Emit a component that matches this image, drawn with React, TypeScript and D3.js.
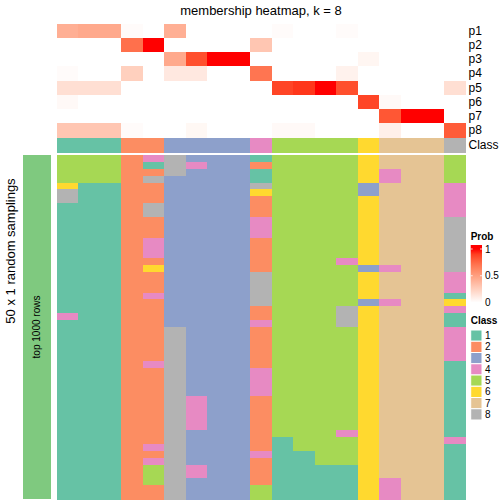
import React from "react";
import * as d3 from "d3";

const title = "membership heatmap, k = 8";
const probRows = ["p1", "p2", "p3", "p4", "p5", "p6", "p7", "p8"];
const classLabels = ["1", "2", "3", "4", "5", "6", "7", "8"];
const classColors = ["#66C2A5", "#FC8D62", "#8DA0CB", "#E78AC3", "#A6D854", "#FFD92F", "#E5C494", "#B3B3B3"];
const probTicks = [0, 0.5, 1];

// membership probability per column (19 columns) for each class p1..p8
const p1 = [0.42, 0.45, 0.45, 0.02, 0, 0.42, 0, 0, 0, 0, 0.02, 0, 0, 0.02, 0, 0, 0, 0, 0];
const p2 = [0, 0, 0, 0.72, 1, 0, 0, 0, 0, 0.3, 0, 0, 0, 0, 0, 0, 0, 0, 0];
const p3 = [0, 0, 0, 0, 0, 0.45, 0.85, 1, 1, 0, 0, 0, 0, 0, 0.05, 0, 0, 0, 0];
const p4 = [0.02, 0, 0, 0.25, 0, 0.12, 0.12, 0, 0, 0.7, 0, 0, 0, 0.07, 0, 0, 0, 0, 0];
const p5 = [0.17, 0.17, 0.17, 0, 0, 0, 0, 0, 0, 0, 0.88, 0.92, 1, 0.85, 0, 0, 0, 0, 0.17];
const p6 = [0.03, 0, 0, 0, 0, 0, 0, 0, 0, 0, 0, 0, 0, 0, 0.88, 0.03, 0, 0, 0];
const p7 = [0, 0, 0, 0, 0, 0, 0, 0, 0, 0, 0, 0, 0, 0, 0, 0.82, 1, 1, 0];
const p8 = [0.3, 0.3, 0.3, 0.02, 0, 0, 0.04, 0, 0, 0, 0.03, 0.03, 0, 0, 0, 0.08, 0, 0, 0.8];
const probMatrix = [p1, p2, p3, p4, p5, p6, p7, p8];

// consensus class per column
const consensusClass = [1, 1, 1, 2, 2, 3, 3, 3, 3, 4, 5, 5, 5, 5, 6, 7, 7, 7, 8];

// class assignment for each of the 50 random samplings (rows) x 19 columns
const samplings = [
  "5552483331555567775",
  "5552184332555567775",
  "5552283331555564775",
  "5552833331555564775",
  "6112233338555537774",
  "8112233336555537774",
  "8112233332555567774",
  "1112833332555567774",
  "1112833332555567774",
  "1112233334555567778",
  "1112233334555567778",
  "1112233334555567778",
  "1112433332555567778",
  "1112433332555567778",
  "1112433332555567778",
  "1112233332555467778",
  "1112633332555534778",
  "1112233338555567774",
  "1112233338555567774",
  "1112233338555567774",
  "1112433338555567771",
  "1112233338555534776",
  "1112233332555867774",
  "4112233332555867771",
  "1112233334555867771",
  "1112283332555567774",
  "1112283332555567774",
  "1112283332555567774",
  "1112283332555567774",
  "1112283332555567774",
  "1112483332555567771",
  "1112283334555567771",
  "1112283334555567771",
  "1112283334555567771",
  "1112283334555567771",
  "1112284332555567771",
  "1112284332555567771",
  "1112284332555567771",
  "1112284332555567771",
  "1112284332555567771",
  "1112283332555467771",
  "1112283332155567774",
  "1112483332155567771",
  "1112283334115567771",
  "1112483332115567771",
  "1112584332111167771",
  "1112584332111167771",
  "1112583332111164771",
  "1112283335111164771",
  "1112283335111164771",
];

const FONT = "'Liberation Sans', Arial, Helvetica, sans-serif";

export default function App() {
  const nCol = consensusClass.length;
  const x = d3.scaleBand<number>().domain(d3.range(nCol)).range([56.7, 465.2]).padding(0);
  const yTop = d3.scaleBand<string>().domain(probRows).range([24, 137]).padding(0);
  const classY0 = 137.8;
  const classY1 = 152.7;
  const yBody = d3.scaleBand<number>().domain(d3.range(samplings.length)).range([155, 499]).padding(0);
  const probColor = d3.scaleLinear<string>().domain([0, 1]).range(["#FFFFFF", "#FF0000"]).interpolate(d3.interpolateLab);
  const classColor = d3.scaleOrdinal<number, string>().domain(d3.range(1, 9)).range(classColors);

  const legX = 470.7;
  const legW = 11.3;
  const probLegend = d3.scaleLinear().domain([0, 1]).range([302.5, 249]);
  const classLegY = d3.scaleBand<string>().domain(classLabels).range([330, 420]);

  const gradStops = d3.range(0, 1.0001, 0.1);

  return (
    <svg width={504} height={504} style={{ position: "absolute", left: 0, top: 0, display: "block" }} fontFamily={FONT}>
      <defs>
        <linearGradient id="probGrad" x1="0" y1="1" x2="0" y2="0">
          {gradStops.map((t) => (
            <stop key={t} offset={t} stopColor={probColor(t)} />
          ))}
        </linearGradient>
      </defs>
      <rect width={504} height={504} fill="white" />
      <text x={261} y={15} fontSize={13} textAnchor="middle" fill="black">{title}</text>

      <g shapeRendering="crispEdges">
        {probMatrix.map((row, i) =>
          row.map((v, j) => (
            <rect key={`p${i}-${j}`} x={x(j)} y={yTop(probRows[i])} width={x.bandwidth() + 0.5} height={yTop.bandwidth() + 0.5} fill={probColor(v)} />
          ))
        )}
        {consensusClass.map((c, j) => (
          <rect key={`c${j}`} x={x(j)} y={classY0} width={x.bandwidth() + 0.5} height={classY1 - classY0} fill={classColor(c)} />
        ))}
        {samplings.map((s, i) =>
          s.split("").map((ch, j) => (
            <rect key={`s${i}-${j}`} x={x(j)} y={yBody(i)} width={x.bandwidth() + 0.5} height={yBody.bandwidth() + 0.5} fill={classColor(+ch)} />
          ))
        )}
        <rect x={22.7} y={155} width={28} height={344} fill="#7FC97F" />
      </g>

      {probRows.map((p) => (
        <text key={p} x={468.5} y={(yTop(p) as number) + yTop.bandwidth() / 2} fontSize={12} dominantBaseline="central" fill="black">{p}</text>
      ))}
      <text x={468.5} y={(classY0 + classY1) / 2} fontSize={12} dominantBaseline="central" fill="black">Class</text>

      <text transform={`translate(15,251) rotate(-90)`} fontSize={13} textAnchor="middle" fill="black">50 x 1 random samplings</text>
      <text transform={`translate(40,327) rotate(-90)`} fontSize={10} textAnchor="middle" fill="black">top 1000 rows</text>

      {/* Prob legend */}
      <text x={legX} y={240} fontSize={10} fontWeight="bold" fill="black">Prob</text>
      <rect x={legX} y={245} width={legW} height={probLegend(1) - 245} fill="#FF0000" />
      <rect x={legX} y={probLegend(1)} width={legW} height={probLegend(0) - probLegend(1)} fill="url(#probGrad)" />
      {probTicks.map((t) => (
        <g key={t}>
          <line x1={legX} x2={legX + 2} y1={probLegend(t)} y2={probLegend(t)} stroke="white" strokeWidth={0.8} />
          <line x1={legX + legW - 2} x2={legX + legW} y1={probLegend(t)} y2={probLegend(t)} stroke="white" strokeWidth={0.8} />
          <text x={485} y={probLegend(t)} fontSize={10} dominantBaseline="central" fill="black">{t}</text>
        </g>
      ))}

      {/* Class legend */}
      <text x={legX} y={323.5} fontSize={10} fontWeight="bold" fill="black">Class</text>
      {classLabels.map((l, i) => (
        <g key={l}>
          <rect x={legX} y={classLegY(l)} width={legW} height={classLegY.bandwidth()} fill={classColors[i]} stroke="white" strokeWidth={1} />
          <text x={485} y={(classLegY(l) as number) + classLegY.bandwidth() / 2} fontSize={10} dominantBaseline="central" fill="black">{l}</text>
        </g>
      ))}
    </svg>
  );
}
